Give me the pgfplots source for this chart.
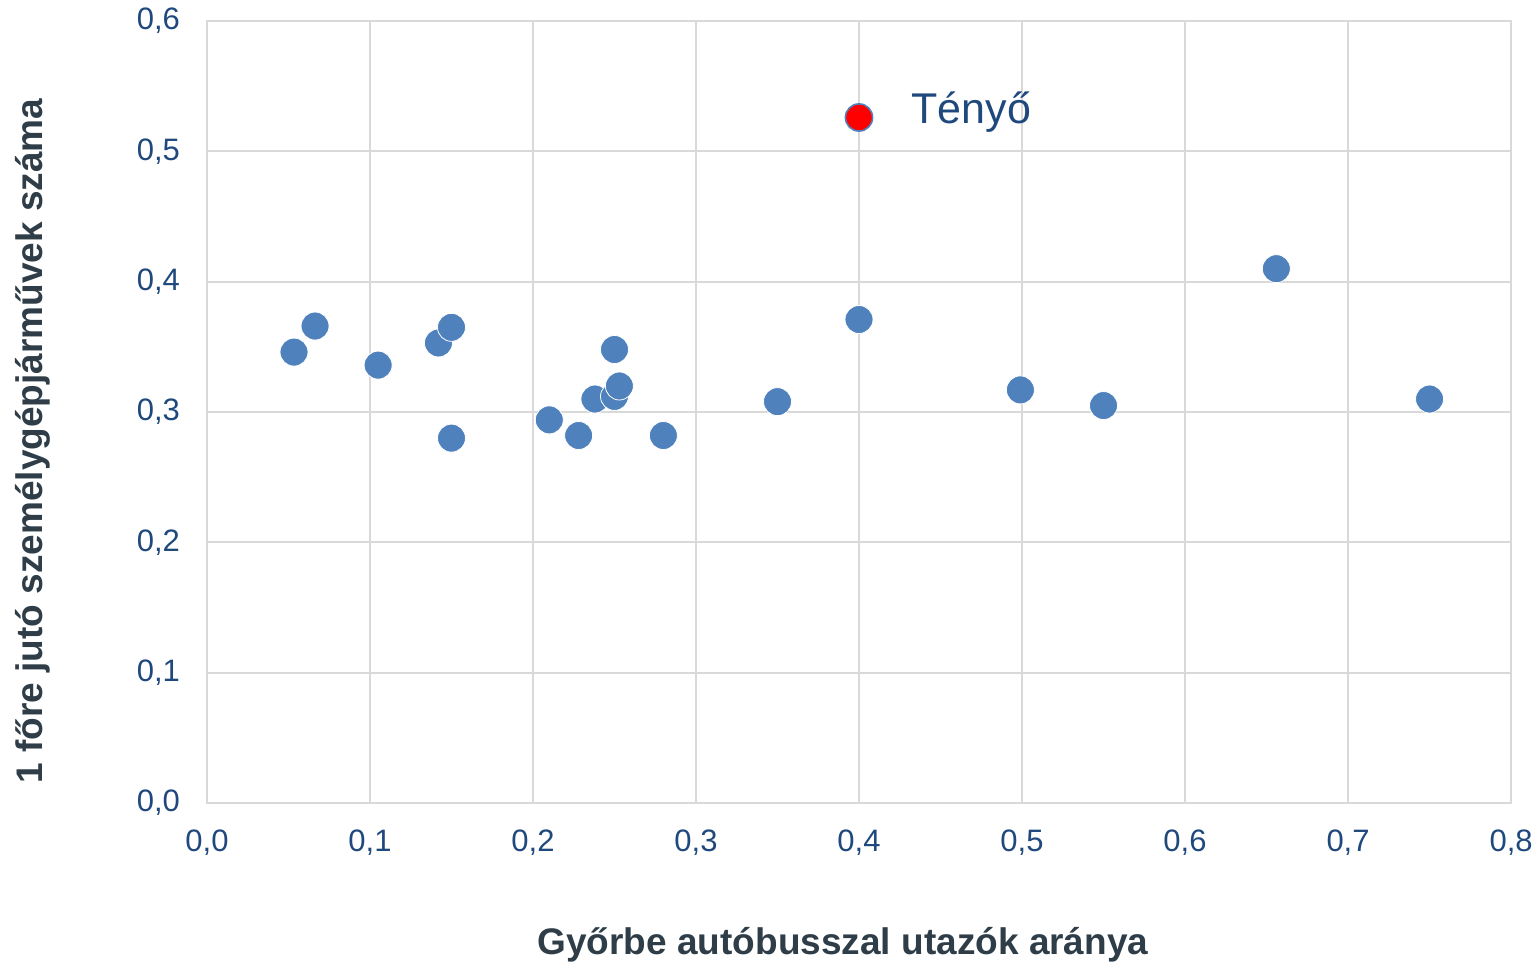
\documentclass[border=0pt]{standalone}
\usepackage{pgfplots}
\pgfplotsset{compat=1.18}
\usepackage{fontspec}
\setmainfont{Liberation Sans}
\definecolor{ptblue}{HTML}{4F81BD}
\definecolor{tickblue}{HTML}{1F497D}
\definecolor{labgray}{HTML}{2E3D47}
\definecolor{gridgray}{HTML}{D9D9D9}
\begin{document}
\begin{tikzpicture}
\begin{axis}[
  scale only axis,
  width=652pt, height=391pt,
  xmin=0, xmax=0.8, ymin=0, ymax=0.6,
  xtick={0,0.1,...,0.8}, ytick={0,0.1,...,0.6},
  grid=major,
  major grid style={gridgray, line width=1pt},
  axis line style={gridgray, line width=1pt},
  major tick length=0pt,
  tick label style={font=\fontsize{15.5}{18}\selectfont, text=tickblue},
  /pgf/number format/assume math mode=true,
  /pgf/number format/.cd, fixed, fixed zerofill, precision=1, use comma,
  /pgfplots/.cd,
  xticklabel style={yshift=-10pt},
  yticklabel style={xshift=-10pt},
  xlabel={\bfseries Győrbe autóbusszal utazók aránya},
  ylabel={\bfseries 1 főre jutó személygépjárművek száma},
  xlabel style={font=\fontsize{18.5}{21}\selectfont, text=labgray, at={(axis description cs:0.4877,-0.1816)}, anchor=center},
  ylabel style={font=\fontsize{18.5}{21}\selectfont, text=labgray, at={(axis description cs:-0.1334,0.463)}, anchor=center},
  clip=false,
]
\addplot[only marks, mark=*, mark size=7pt, mark options={fill=ptblue, draw=white, line width=0.4pt}] coordinates {
(0.0534,0.346) (0.0663,0.366) (0.105,0.336) (0.142,0.353) (0.150,0.365)
(0.150,0.280) (0.210,0.294) (0.228,0.282) (0.238,0.310) (0.250,0.348)
(0.250,0.312) (0.253,0.320) (0.280,0.282) (0.350,0.308) (0.400,0.371)
(0.499,0.317) (0.550,0.305) (0.656,0.410) (0.750,0.310)
};
\addplot[only marks, mark=*, mark size=6.8pt, mark options={fill=red, draw=ptblue, line width=0.8pt}] coordinates {(0.400,0.526)};
\node[anchor=west, text=tickblue, font=\fontsize{21.5}{26}\selectfont, inner sep=0pt] at (axis cs:0.432,0.530) {Tényő};
\path (axis description cs:-0.1587,-0.2084) rectangle (axis description cs:1.0222,1.0269);
\end{axis}
\end{tikzpicture}
\end{document}
